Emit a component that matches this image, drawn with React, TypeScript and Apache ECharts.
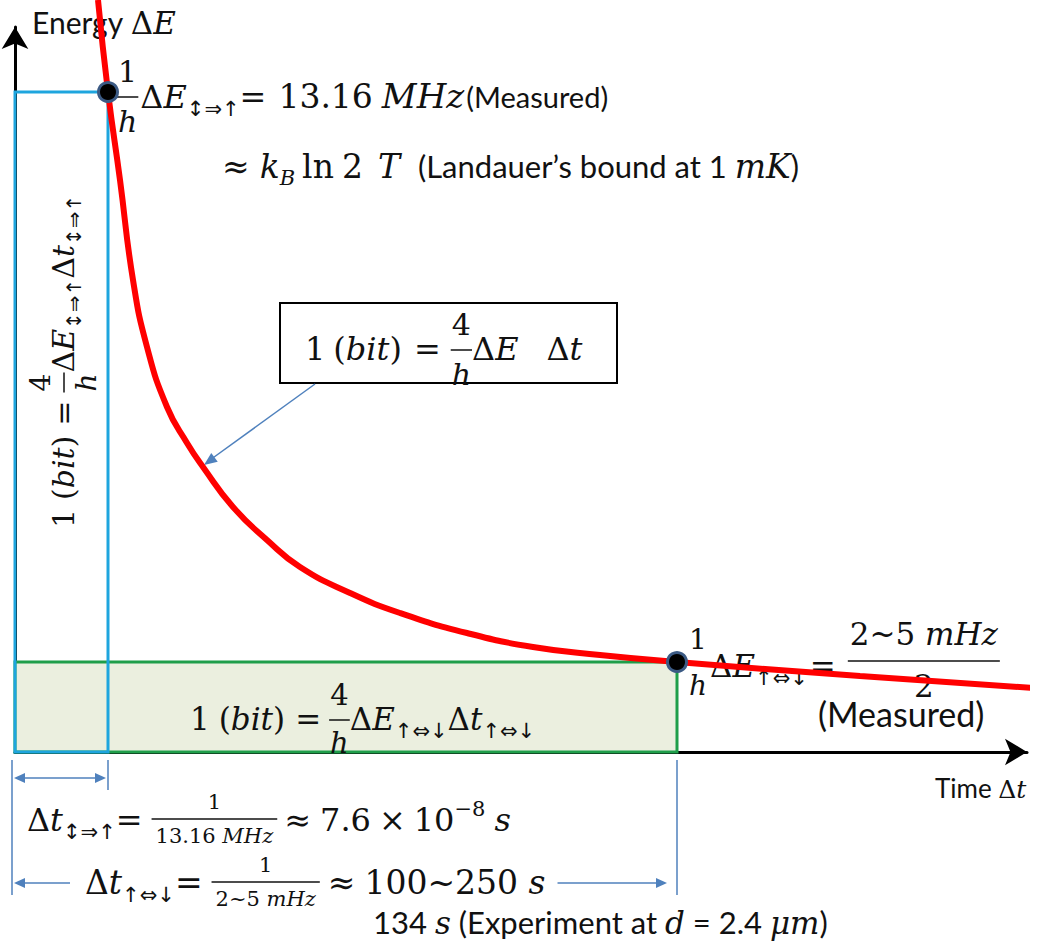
import React, { useEffect, useRef } from 'react';
import * as echarts from 'echarts';

// Schematic axes: one unit = 10 px. Curve of ΔE·Δt = const (1 bit).
const curveT = [8.3, 9.3, 10.5, 11.8, 13.2, 15.2, 17.2, 18.8, 21.8, 25.2, 28.5, 33.5, 38.5, 45.2, 51.8, 58.5, 66.2, 84.5, 101.8];
const curveE = [75.2, 66.0, 57.2, 47.2, 40.5, 34.5, 30.9, 28.5, 24.5, 21.2, 18.5, 15.9, 13.9, 11.9, 10.5, 9.7, 9.0, 7.6, 6.4];
// Measured transitions: ↕⇒↑ (13.16 MHz) and ↑⇔↓ (2~5 mHz)
const measuredT = [9.3, 66.2];
const measuredE = [66.0, 9.0];
const axisMaxT = 101.2;
const axisMaxE = 72.5;

const SERIF = 'DejaVu Serif';
const SANS = 'Lato';
const ARROWS = 'DejaVu Sans';
const INK = '#111';
const LEADER = '#4f81bd';

type Kind = 'r' | 'i' | 's' | 'a';
interface TextSeg { t: string; k: Kind; s: number; dy?: number; pre?: number; post?: number }
interface FracSeg { num: TextSeg[]; den: TextSeg[]; s: number; axis: number; pre?: number; post?: number; pad?: number; lw?: number; numGap?: number; denGap?: number }
type Seg = TextSeg | FracSeg;

const T = (t: string, k: Kind, s: number, o: Partial<TextSeg> = {}): TextSeg => ({ t, k, s, ...o });
const F = (num: TextSeg[], den: TextSeg[], s: number, axis: number, o: Partial<FracSeg> = {}): FracSeg => ({ num, den, s, axis, ...o });

const family = (k: Kind) => (k === 's' ? SANS : k === 'a' ? ARROWS : SERIF);
const central = (k: Kind) => (k === 's' ? 0.387 : 0.346);

let measureCtx: CanvasRenderingContext2D | null = null;
function measure(seg: TextSeg): number {
  if (!measureCtx) measureCtx = document.createElement('canvas').getContext('2d');
  measureCtx!.font = `${seg.k === 'i' ? 'italic ' : ''}${seg.s}px "${family(seg.k)}"`;
  return measureCtx!.measureText(seg.t).width;
}
function runWidth(segs: Seg[]): number {
  let w = 0;
  for (const seg of segs) {
    w += (seg.pre || 0) + (seg.post || 0);
    if ('num' in seg) w += Math.max(runWidth(seg.num), runWidth(seg.den)) + 2 * (seg.pad ?? 3);
    else w += measure(seg);
  }
  return w;
}
function layoutRun(segs: Seg[], x0: number, base: number, out: any[], color = INK): number {
  let x = x0;
  for (const seg of segs) {
    x += seg.pre || 0;
    if ('num' in seg) {
      const nw = runWidth(seg.num);
      const dw = runWidth(seg.den);
      const pad = seg.pad ?? 3;
      const fw = Math.max(nw, dw) + 2 * pad;
      const barY = base - seg.axis;
      out.push({ type: 'line', shape: { x1: x, y1: barY, x2: x + fw, y2: barY }, style: { stroke: color, lineWidth: seg.lw ?? 1.5 }, z: 2, silent: true });
      layoutRun(seg.num, x + (fw - nw) / 2, barY - (seg.numGap ?? seg.s * 0.5), out, color);
      layoutRun(seg.den, x + (fw - dw) / 2, barY + (seg.denGap ?? seg.s * 1.15), out, color);
      x += fw;
    } else {
      out.push({
        type: 'text',
        x,
        y: base + (seg.dy || 0) - central(seg.k) * seg.s,
        z: 2,
        silent: true,
        style: {
          text: seg.t,
          fontSize: seg.s,
          fontFamily: family(seg.k),
          fontStyle: seg.k === 'i' ? 'italic' : 'normal',
          fill: color,
          align: 'left',
          verticalAlign: 'middle',
          textAlign: 'left',
          textVerticalAlign: 'middle',
        },
      });
      x += measure(seg);
    }
    x += seg.post || 0;
  }
  return x - x0;
}

function arrowHead(tx: number, ty: number, fx: number, fy: number, len: number, half: number, color: string) {
  const d = Math.hypot(tx - fx, ty - fy);
  const ux = (tx - fx) / d;
  const uy = (ty - fy) / d;
  const bx = tx - ux * len;
  const by = ty - uy * len;
  return {
    type: 'polygon',
    z: 2,
    silent: true,
    shape: { points: [[tx, ty], [bx - uy * half, by + ux * half], [bx + uy * half, by - ux * half]] },
    style: { fill: color },
  };
}
function leader(x1: number, y1: number, x2: number, y2: number, color = LEADER, w = 1.5) {
  return { type: 'line', z: 2, silent: true, shape: { x1, y1, x2, y2 }, style: { stroke: color, lineWidth: w } };
}

export default function App() {
  const ref = useRef<HTMLDivElement>(null);
  useEffect(() => {
    const chart = echarts.init(ref.current!, null, { renderer: 'svg' });
    const hiddenAxis = {
      type: 'value' as const,
      axisTick: { show: false },
      axisLabel: { show: false },
      splitLine: { show: false },
    };
    chart.setOption({
      animation: false,
      backgroundColor: '#ffffff',
      grid: { left: 15, top: 27, width: 1012, height: 725 },
      xAxis: {
        ...hiddenAxis,
        min: 0,
        max: axisMaxT,
        offset: 1,
        axisLine: { show: true, symbol: ['none', 'arrow'], symbolSize: [20, 22], lineStyle: { color: '#000', width: 3 } },
      },
      yAxis: {
        ...hiddenAxis,
        min: 0,
        max: axisMaxE,
        offset: 2,
        axisLine: { show: true, symbol: ['none', 'arrow'], symbolSize: [20, 22], lineStyle: { color: '#000', width: 3 } },
      },
      series: [
        {
          // 1-bit rectangles spanned by each measured point
          type: 'custom',
          z: 1,
          silent: true,
          encode: { x: [0, 2], y: [1, 3] },
          data: [
            [0, 0, measuredT[1], measuredE[1]],
            [0, 0, measuredT[0], measuredE[0]],
          ],
          renderItem: (params: any, api: any) => {
            const a = api.coord([api.value(0), api.value(1)]);
            const b = api.coord([api.value(2), api.value(3)]);
            const green = params.dataIndex === 0;
            return {
              type: 'rect',
              shape: { x: a[0], y: b[1], width: b[0] - a[0], height: a[1] - b[1] },
              style: green
                ? { fill: '#ebefdf', stroke: '#1f9e4a', lineWidth: 3 }
                : { fill: 'none', stroke: '#1ea5de', lineWidth: 3 },
            };
          },
        },
        {
          type: 'line',
          z: 3,
          silent: true,
          clip: false,
          smooth: 0.5,
          symbol: 'none',
          lineStyle: { color: '#ff0000', width: 6 },
          data: curveT.map((t, i) => [t, curveE[i]]),
        },
        {
          type: 'scatter',
          z: 5,
          silent: true,
          symbolSize: 19,
          itemStyle: { color: '#000', borderColor: '#3b5a84', borderWidth: 3, opacity: 1 },
          data: measuredT.map((t, i) => [t, measuredE[i]]),
        },
      ],
    });

    const [p1x, p1y] = chart.convertToPixel({ gridIndex: 0 }, [measuredT[0], measuredE[0]]) as number[];
    const [p2x, p2y] = chart.convertToPixel({ gridIndex: 0 }, [measuredT[1], measuredE[1]]) as number[];
    const [ox] = chart.convertToPixel({ gridIndex: 0 }, [0, 0]) as number[];

    const els: any[] = [];
    const one = (s: number) => [T('1', 'r', s)];
    const h = (s: number) => [T('h', 'i', s)];

    // Axis titles
    layoutRun([T('Energy ', 's', 30), T('Δ', 'r', 31), T('E', 'i', 31)], 32, 34, els);
    layoutRun([T('Time ', 's', 26), T('Δ', 'r', 25), T('t', 'i', 25)], 935, 798, els);

    // Upper measured point
    layoutRun(
      [
        F(one(30), h(30), 30, 11, { pad: 1 }),
        T('Δ', 'r', 32, { pre: 2 }),
        T('E', 'i', 32),
        T('↕⇒↑', 'a', 21, { dy: 8 }),
        T('=', 'r', 32, { post: 12 }),
        T('13.16', 'r', 33, { post: 9 }),
        T('MHz', 'i', 34, { post: 2 }),
        T('(Measured)', 's', 29),
      ],
      p1x + 9,
      p1y + 16,
      els
    );
    layoutRun(
      [
        T('≈', 'r', 33, { post: 10 }),
        T('k', 'i', 33),
        T('B', 'i', 21, { dy: 7, post: 7 }),
        T('ln', 'r', 33, { post: 8 }),
        T('2', 'r', 33, { post: 15 }),
        T('T', 'i', 33, { post: 18 }),
        T('(Landauer’s bound at 1 ', 's', 31),
        T('mK', 'i', 33),
        T(')', 's', 31),
      ],
      222,
      178,
      els
    );

    // Framed relation with leader to the curve
    els.push({ type: 'rect', z: 2, silent: true, shape: { x: 280, y: 303, width: 337, height: 80 }, style: { fill: '#fff', stroke: '#000', lineWidth: 2 } });
    layoutRun(
      [
        T('1', 'r', 32, { post: 8 }),
        T('(', 'r', 32),
        T('bit', 'i', 32),
        T(')', 'r', 32, { post: 12 }),
        T('=', 'r', 32, { post: 10 }),
        F([T('4', 'r', 30)], h(30), 30, 10, { pad: 1 }),
        T('Δ', 'r', 32),
        T('E', 'i', 32, { post: 28 }),
        T('Δ', 'r', 32),
        T('t', 'i', 32),
      ],
      305,
      360,
      els
    );
    els.push(leader(315, 384, 210, 460));
    els.push(arrowHead(204, 465, 315, 384, 13, 5.5, LEADER));

    // Vertical relation inside the blue rectangle
    const vert: any[] = [];
    layoutRun(
      [
        T('1', 'r', 30, { post: 9 }),
        T('(', 'r', 30),
        T('bit', 'i', 30),
        T(')', 'r', 30, { post: 10 }),
        T('=', 'r', 30, { post: 8 }),
        F([T('4', 'r', 28)], h(28), 28, 10, { pad: 1 }),
        T('Δ', 'r', 30),
        T('E', 'i', 30),
        T('↕⇒↑', 'a', 20, { dy: 7 }),
        T('Δ', 'r', 30),
        T('t', 'i', 30),
        T('↕⇒↑', 'a', 20, { dy: 7 }),
      ],
      0,
      0,
      vert
    );
    els.push({ type: 'group', x: 74, y: 528, rotation: Math.PI / 2, children: vert });

    // Relation inside the green rectangle
    layoutRun(
      [
        T('1', 'r', 31, { post: 9 }),
        T('(', 'r', 31),
        T('bit', 'i', 31),
        T(')', 'r', 31, { post: 10 }),
        T('=', 'r', 31, { post: 8 }),
        F([T('4', 'r', 29)], h(29), 29, 10, { pad: 1 }),
        T('Δ', 'r', 31),
        T('E', 'i', 31),
        T('↑⇔↓', 'a', 21, { dy: 8 }),
        T('Δ', 'r', 31),
        T('t', 'i', 31),
        T('↑⇔↓', 'a', 21, { dy: 8 }),
      ],
      190,
      730,
      els
    );

    // Lower measured point
    layoutRun(
      [
        F(one(28), h(28), 28, 14, { pad: 1 }),
        T('Δ', 'r', 31, { pre: 2 }),
        T('E', 'i', 31),
        T('↑⇔↓', 'a', 21, { dy: 8 }),
        T('=', 'r', 31, { pre: 2, post: 12 }),
        F([T('2~5 ', 'r', 31), T('mHz', 'i', 31)], [T('2', 'r', 31)], 31, 16, { pad: 2, numGap: 16, denGap: 36 }),
      ],
      p2x + 11,
      p2y + 15,
      els
    );
    layoutRun([T('(Measured)', 's', 34)], 818, 727, els);

    // Dimension lines under the time axis
    els.push(leader(ox - 3, 760, ox - 3, 895));
    els.push(leader(p1x, 760, p1x, 790));
    els.push(leader(p2x, 760, p2x, 895));
    els.push(leader(ox + 8, 778, p1x - 8, 778));
    els.push(arrowHead(ox - 1, 778, p1x, 778, 11, 5, LEADER));
    els.push(arrowHead(p1x - 2, 778, ox, 778, 11, 5, LEADER));

    layoutRun(
      [
        T('Δ', 'r', 32),
        T('t', 'i', 32),
        T('↕⇒↑', 'a', 21, { dy: 8 }),
        T('=', 'r', 32, { post: 9 }),
        F(one(21), [T('13.16 ', 'r', 21), T('MHz', 'i', 21)], 21, 12, { pad: 4, numGap: 10, denGap: 24, lw: 1.3 }),
        T('≈', 'r', 32, { pre: 7, post: 9 }),
        T('7.6', 'r', 32, { post: 8 }),
        T('×', 'r', 32, { post: 8 }),
        T('10', 'r', 32),
        T('−8', 'r', 21, { dy: -15, post: 9 }),
        T('s', 'i', 32),
      ],
      27,
      831,
      els
    );

    els.push(leader(ox + 8, 883, 70, 883));
    els.push(arrowHead(ox - 1, 883, 70, 883, 11, 5, LEADER));
    const w2 = layoutRun(
      [
        T('Δ', 'r', 33),
        T('t', 'i', 33),
        T('↑⇔↓', 'a', 21, { dy: 8 }),
        T('=', 'r', 33, { post: 9 }),
        F(one(21), [T('2~5 ', 'r', 21), T('mHz', 'i', 21)], 21, 12, { pad: 4, numGap: 10, denGap: 24, lw: 1.3 }),
        T('≈', 'r', 33, { pre: 8, post: 9 }),
        T('100~250 ', 'r', 33),
        T('s', 'i', 33),
      ],
      85,
      894,
      els
    );
    els.push(leader(85 + w2 + 12, 883, p2x - 12, 883));
    els.push(arrowHead(p2x - 10, 883, 85 + w2, 883, 11, 5, LEADER));

    layoutRun(
      [
        T('134 ', 's', 31),
        T('s', 'i', 31),
        T(' (Experiment at ', 's', 31),
        T('d', 'i', 31),
        T(' = 2.4 ', 's', 31),
        T('μm', 'i', 31),
        T(')', 's', 31),
      ],
      373,
      934,
      els
    );

    chart.setOption({ graphic: { elements: els } });
    return () => chart.dispose();
  }, []);
  return <div ref={ref} style={{ position: 'absolute', left: 0, top: 0, width: 1037, height: 949, background: '#fff' }} />;
}
